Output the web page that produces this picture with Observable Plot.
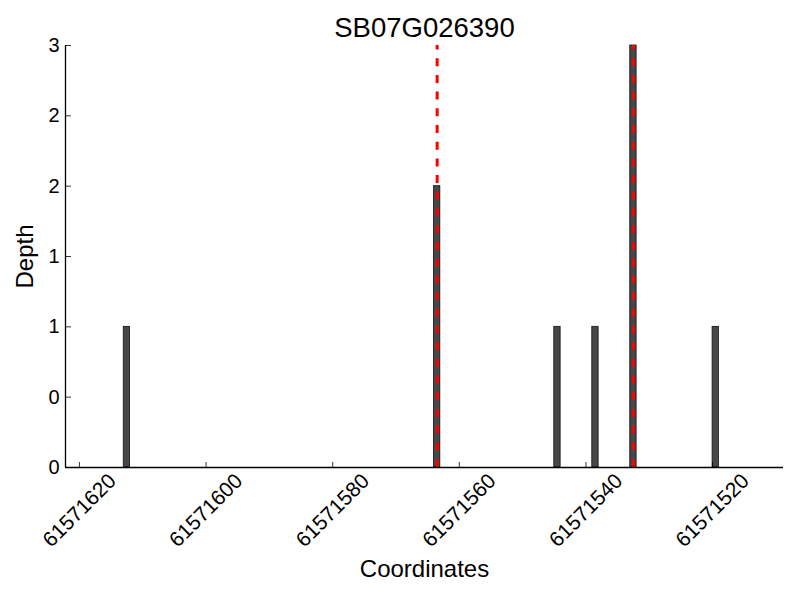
<!DOCTYPE html>
<html><head><meta charset="utf-8">
<script src="https://cdn.jsdelivr.net/npm/d3@7"></script>
<script src="https://cdn.jsdelivr.net/npm/@observablehq/plot@0.6"></script>
<style>
body{margin:0;background:#fff}
#chart svg{font-family:"Liberation Sans",Arial,Helvetica,sans-serif;display:block}
</style>
</head><body><div id="chart"></div>
<script>
const title = "SB07G026390";
const positions = [61571612, 61571563, 61571544, 61571538, 61571532, 61571519];
const depths = [1, 2, 1, 1, 3, 1];
const markers = [61571563, 61571532];
const xTicks = [61571620, 61571600, 61571580, 61571560, 61571540, 61571520];
const yTicks = [0, 0.5, 1, 1.5, 2, 2.5, 3];
const yTickLabels = ["0", "0", "1", "1", "2", "2", "3"];
const xLabel = "Coordinates";
const yLabel = "Depth";

const xDomain = [61571622.2, 61571508.8];
const bars = positions.map((p, i) => ({start: p, end: p + 1, depth: depths[i]}));
const yt = yTicks.map((v, i) => ({v, label: yTickLabels[i]}));

const W = 800, H = 600, mL = 65, mR = 17, mT = 45, mB = 133;
const plotW = W - mL - mR, plotH = H - mT - mB;

const chart = Plot.plot({
  width: W, height: H,
  marginLeft: mL, marginRight: mR, marginTop: mT, marginBottom: mB,
  x: {domain: xDomain, axis: null},
  y: {domain: [0, 3], axis: null},
  style: {fontFamily: '"Liberation Sans",Arial,Helvetica,sans-serif', background: "white", color: "black"},
  marks: [
    Plot.rectY(bars, {x1: "start", x2: "end", y1: 0, y2: "depth", fill: "#474747", stroke: "#111", strokeWidth: 0.8}),
    Plot.ruleX(markers, {x: d => d + 0.5, y1: 0, y2: 3, stroke: "#ff0000", strokeWidth: 3, strokeDasharray: "8,8.7"}),
    Plot.ruleX([xDomain[0]], {x: d => d, y1: 0, y2: 3, stroke: "black", strokeWidth: 1.3}),
    Plot.ruleY([0], {y: d => d, x1: xDomain[0], x2: xDomain[1], stroke: "black", strokeWidth: 1.3}),
    Plot.tickX(xTicks, {x: d => d, insetTop: plotH - 5, stroke: "black", strokeWidth: 0.8}),
    Plot.tickY(yTicks, {y: d => d, insetRight: plotW - 6, stroke: "black", strokeWidth: 0.8}),
    Plot.text(yt, {y: "v", text: "label", frameAnchor: "left", dx: -6, textAnchor: "end", lineAnchor: "middle", fontSize: 20, fill: "black"}),
    Plot.text(xTicks, {x: d => d, text: d => String(d), frameAnchor: "bottom", dy: 43, rotate: -45, textAnchor: "middle", lineAnchor: "middle", fontSize: 21, fill: "black"}),
    Plot.text([xLabel], {text: d => d, frameAnchor: "bottom", dy: 101.5, textAnchor: "middle", lineAnchor: "middle", fontSize: 24, fill: "black"}),
    Plot.text([yLabel], {text: d => d, frameAnchor: "left", dx: -40, rotate: -90, textAnchor: "middle", lineAnchor: "middle", fontSize: 24, fill: "black"}),
    Plot.text([title], {text: d => d, frameAnchor: "top", dy: -17, textAnchor: "middle", lineAnchor: "middle", fontSize: 27.5, fill: "black"})
  ]
});
document.getElementById("chart").appendChild(chart);
</script>
</body></html>
